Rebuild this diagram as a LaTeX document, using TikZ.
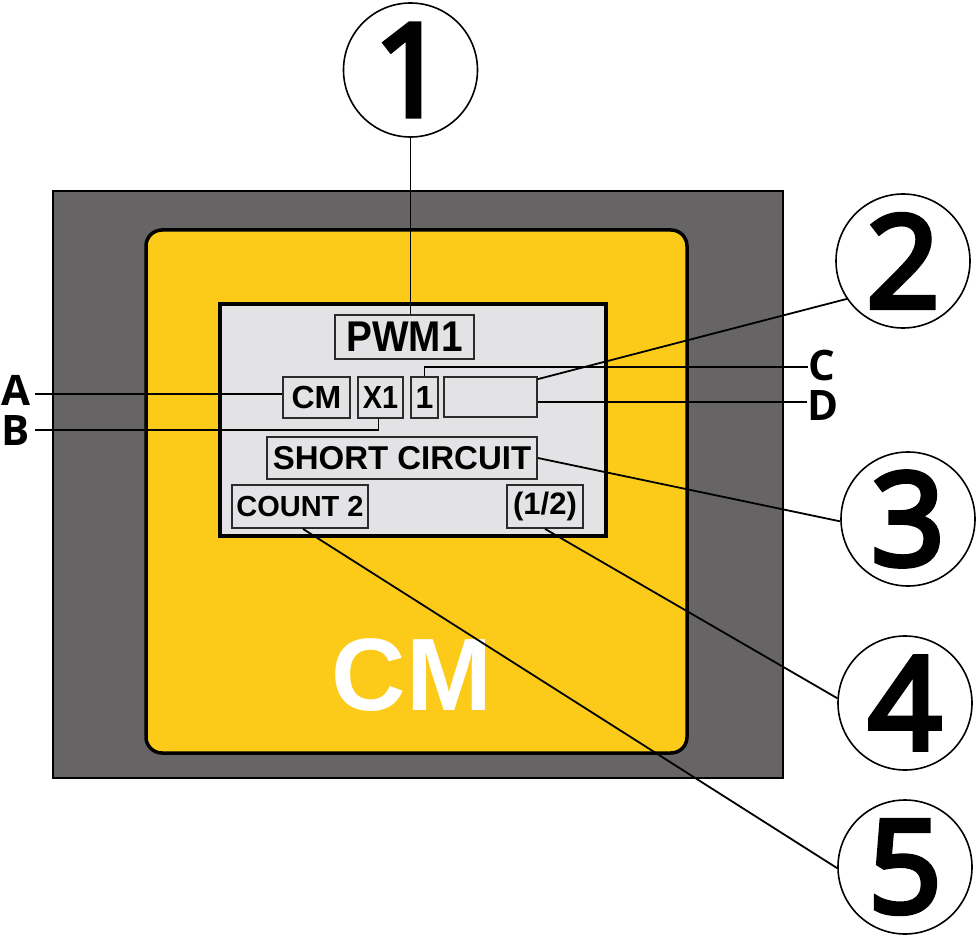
\documentclass[tikz,border=0pt]{standalone}
\usepackage{fontspec}
\usepackage{graphicx}
\setmainfont{Liberation Sans}
\newfontfamily\labfont{Open Sans}
\newfontfamily\digfont[FakeBold=4.5]{Open Sans}
\usetikzlibrary{calc}
\definecolor{outergray}{HTML}{666465}
\definecolor{cmyellow}{HTML}{FCCB1A}
\definecolor{screengray}{HTML}{E3E3E5}
\definecolor{boxline}{HTML}{2B2B2B}
\tikzset{
  field/.style={draw=boxline, line width=1.8pt, fill=screengray, inner sep=0pt, text=black,
    font=\bfseries\fontsize{32}{32}\selectfont},
  callout/.style={circle, draw=black, line width=1.6pt, fill=white, minimum size=134pt, inner sep=0pt,
    font=\digfont\fontsize{128}{128}\selectfont},
  letter/.style={inner sep=0pt, font=\labfont\bfseries\fontsize{42}{42}\selectfont},
  leader/.style={line width=1.8pt, draw=black}
}
\begin{document}
\begin{tikzpicture}[x=1pt,y=-1pt]
\useasboundingbox (0,0) rectangle (977,944);
% housing
\draw[fill=outergray, line width=2pt] (53,191) rectangle (783,778);
\draw[fill=cmyellow, line width=3.5pt, rounded corners=16pt] (146,230) rectangle (687,753);
\draw[fill=screengray, line width=4pt] (220,304) rectangle (606,536);
\node[text=white, inner sep=0pt, font=\bfseries\fontsize{103}{103}\selectfont] (big) at (412,675) {CM};
% display fields
\node[field, minimum width=139pt, minimum height=44pt, font=\bfseries\fontsize{43}{43}\selectfont] (pwm) at (404.5,337) {\scalebox{0.9}[1]{PWM1}};
\node[field, minimum width=67pt, minimum height=41pt] (cm) at (316.5,397.5) {CM};
\node[field, minimum width=45pt, minimum height=41pt] (x1) at (380.5,397.5) {\scalebox{0.9}[1]{X1}};
\node[field, minimum width=27pt, minimum height=41pt] (one) at (424.5,397.5) {1};
\node[field, minimum width=93pt, minimum height=40pt] (emp) at (490.5,397) {};
\node[field, minimum width=270pt, minimum height=42pt, font=\bfseries\fontsize{33}{33}\selectfont] (sc) at (402,458) {SHORT CIRCUIT};
\node[field, minimum width=136pt, minimum height=43pt, font=\bfseries\fontsize{29}{29}\selectfont] (cnt) at (300,506.5) {COUNT 2};
\node[field, minimum width=76pt, minimum height=43pt, font=\bfseries\fontsize{31}{31}\selectfont] (half) at (545,506.5) {(1/2)};
% callouts
\node[callout] (c1) at (410.5,70) {1};
\node[callout] (c2) at (903,261) {2};
\node[callout] (c3) at (908,519) {3};
\node[callout] (c4) at (905,703) {4};
\node[callout] (c5) at (905,867) {5};
% letters
\node[letter] (la) at (16,390) {A};
\node[letter] (lb) at (16,431) {B};
\node[letter] (lc) at (822,365) {C};
\node[letter] (ld) at (823,406) {D};
\coordinate (Aend) at (35,394);
\coordinate (Bend) at (35,430);
\coordinate (Cend) at (808,367);
\coordinate (Dend) at (807,402);
% leaders
\draw[leader] (c1.south) -- (c1.south |- pwm.north);
\draw[leader] ($(emp.north east)+(0,3)$) -- (c2.214);
\draw[leader] (sc.east) -- (c3.182);
\draw[leader] (half.south) -- (c4.176);
\draw[leader] ($(cnt.south)+(3,0)$) -- (c5.181);
\draw[leader] (Aend) -- (Aend -| cm.west);
\draw[leader] (Bend) -| ($(x1.south)+(-2,0)$);
\draw[leader] (one.north) |- (Cend);
\draw[leader] (emp.east |- Dend) -- (Dend);
\end{tikzpicture}
\end{document}
